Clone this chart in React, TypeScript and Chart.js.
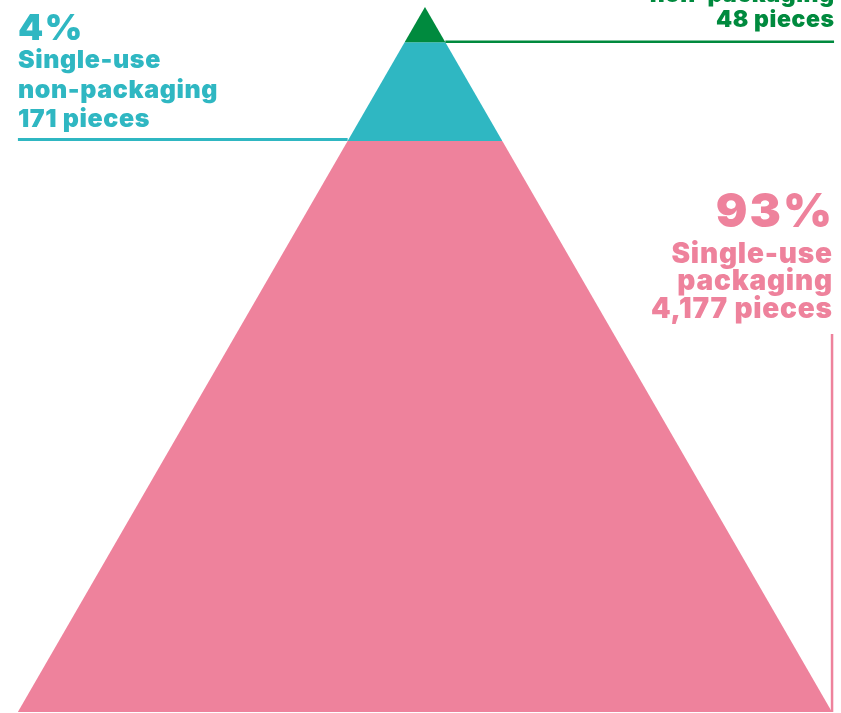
import React, { useEffect, useRef } from "react";
import { Chart, registerables } from "chart.js";

Chart.register(...registerables);

// ---- data ----
const categories = ["Single-use packaging", "Single-use non-packaging", "Non-packaging"];
const pieces = [4177, 171, 48];
const percentLabels = ["93%", "4%", "1%"];
// pyramid height levels: 0 = base, 100 = apex
const layerBottoms = [0, 81, 95];
const layerTops = [81, 95, 100];
const colors = ["#EE829C", "#2FB7C2", "#008A3E"];

const X_MIN = -52.2;
const X_MAX = 51.1;
const Y_MIN = -0.14;
const Y_MAX = 100.99;
const BASE_HALF = 50;

const halfWidth = (h: number) => (BASE_HALF * (100 - h)) / 100;

const FONT = "Inter, 'Open Sans', sans-serif";

function text(ctx: any, s: string, x: number, y: number, size: number, spacing: number, align: "left" | "right") {
  ctx.font = `900 ${size}px ${FONT}`;
  ctx.letterSpacing = `${spacing}px`;
  ctx.textAlign = align;
  ctx.fillText(s, align === "right" ? x + spacing : x, y);
}

const labelPlugin = {
  id: "pyramidLabels",
  afterDatasetsDraw(chart: any) {
    const { ctx, scales } = chart;
    const xs = scales.x;
    const ys = scales.y;
    ctx.save();
    ctx.textBaseline = "alphabetic";

    // --- teal (index 1): leader line to the left ---
    {
      const yb = ys.getPixelForValue(layerBottoms[1]);
      const xl = xs.getPixelForValue(-BASE_HALF);
      const xe = xs.getPixelForValue(-halfWidth(layerBottoms[1]));
      ctx.strokeStyle = colors[1];
      ctx.lineWidth = 3;
      ctx.beginPath();
      ctx.moveTo(xl, yb - 1.5);
      ctx.lineTo(xe, yb - 1.5);
      ctx.stroke();

      ctx.fillStyle = colors[1];
      text(ctx, percentLabels[1], xl, yb - 101, 36, 1.5, "left");
      text(ctx, "Single-use", xl, yb - 73, 25, 0.6, "left");
      text(ctx, "non-packaging", xl, yb - 43, 25, 0.6, "left");
      text(ctx, `${pieces[1].toLocaleString("en-US")} pieces`, xl, yb - 14, 25, 0.6, "left");
    }

    // --- green (index 2): leader line to the right ---
    {
      const yb = ys.getPixelForValue(layerBottoms[2]);
      const xr = xs.getPixelForValue(BASE_HALF) + 2;
      const xe = xs.getPixelForValue(halfWidth(layerBottoms[2]));
      ctx.strokeStyle = colors[2];
      ctx.lineWidth = 2.5;
      ctx.beginPath();
      ctx.moveTo(xe, yb - 0.5);
      ctx.lineTo(xr, yb - 0.5);
      ctx.stroke();

      ctx.fillStyle = colors[2];
      text(ctx, `${pieces[2].toLocaleString("en-US")} pieces`, xr, yb - 15.5, 23, 0.6, "right");
      text(ctx, "non-packaging", xr, yb - 40, 23, 0.6, "right");
      text(ctx, percentLabels[2], xr, yb - 96, 36, 1.5, "right");
    }

    // --- pink (index 0): vertical leader on the right ---
    {
      const xr = xs.getPixelForValue(BASE_HALF);
      const yBase = ys.getPixelForValue(layerBottoms[0]);
      const yTop = ys.getPixelForValue(53.6);
      ctx.strokeStyle = colors[0];
      ctx.lineWidth = 2.5;
      ctx.beginPath();
      ctx.moveTo(xr, yTop);
      ctx.lineTo(xr, yBase);
      ctx.stroke();

      const xt = xr;
      ctx.fillStyle = colors[0];
      text(ctx, percentLabels[0], xt, yTop - 107, 47, 2, "right");
      text(ctx, "Single-use", xt, yTop - 71, 28, 0.8, "right");
      text(ctx, "packaging", xt, yTop - 44, 28, 0.8, "right");
      text(ctx, `${pieces[0].toLocaleString("en-US")} pieces`, xt, yTop - 16, 28, 0.8, "right");
    }

    ctx.restore();
  },
};

export default function App() {
  const ref = useRef<HTMLCanvasElement | null>(null);

  useEffect(() => {
    if (!ref.current) return;
    const datasets = categories.map((name, i) => {
      const b = layerBottoms[i];
      const t = layerTops[i];
      return {
        label: name,
        data: [
          { x: -halfWidth(b), y: b },
          { x: -halfWidth(t), y: t },
          { x: halfWidth(t), y: t },
          { x: halfWidth(b), y: b },
        ],
        showLine: true,
        backgroundColor: colors[i],
        borderColor: colors[i],
        borderWidth: 0,
        pointRadius: 0,
        tension: 0,
        fill: { target: { value: b } },
        order: categories.length - i,
      };
    });

    const chart = new Chart(ref.current, {
      type: "scatter",
      data: { datasets } as any,
      options: {
        animation: false,
        responsive: false,
        layout: { padding: 0 },
        plugins: {
          legend: { display: false },
          tooltip: { enabled: false },
        },
        scales: {
          x: { type: "linear", min: X_MIN, max: X_MAX, display: false },
          y: { type: "linear", min: Y_MIN, max: Y_MAX, display: false },
        },
      } as any,
      plugins: [labelPlugin],
    });
    return () => chart.destroy();
  }, []);

  return (
    <div style={{ position: "fixed", left: 0, top: 0, width: 841, height: 713, background: "#fff" }}>
      <canvas ref={ref} width={841} height={713} style={{ display: "block" }} />
    </div>
  );
}
